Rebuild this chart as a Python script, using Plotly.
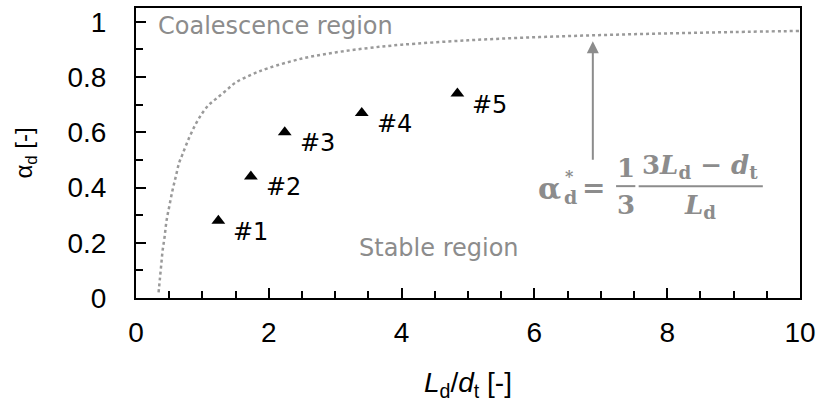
import plotly.graph_objects as go

# Experimental cases
case_labels = ["#1", "#2", "#3", "#4", "#5"]
case_x = [1.24, 1.73, 2.24, 3.40, 4.84]
case_y = [0.28, 0.44, 0.60, 0.67, 0.74]

# Critical curve
curve_x = [0.34, 0.36, 0.38, 0.40, 0.43, 0.46, 0.50, 0.55, 0.60, 0.65, 0.70, 0.80, 0.90, 1.00,
           1.10, 1.20, 1.35, 1.50, 1.75, 2.00, 2.50, 3.00, 3.50, 4.00, 5.00, 6.00, 7.00, 8.00, 9.00, 10.00]
curve_y = [0.02, 0.07, 0.12, 0.17, 0.22, 0.28, 0.33, 0.39, 0.44, 0.49, 0.52, 0.58, 0.63, 0.67,
           0.70, 0.72, 0.75, 0.78, 0.81, 0.833, 0.867, 0.889, 0.905, 0.917, 0.933, 0.944, 0.952, 0.958, 0.963, 0.967]

x_ticks = [0, 2, 4, 6, 8, 10]
y_ticks = [0, 0.2, 0.4, 0.6, 0.8, 1]
y_tick_text = ["0", "0.2", "0.4", "0.6", "0.8", "1"]

GRAY = "#8c8c8c"

fig = go.Figure()
fig.add_trace(go.Scatter(x=curve_x, y=curve_y, mode="lines",
                         line=dict(color="#9a9a9a", width=2.5, dash="dot", shape="spline"),
                         hoverinfo="skip", showlegend=False))
fig.add_trace(go.Scatter(x=case_x, y=case_y, mode="markers",
                         marker=dict(symbol="triangle-up", size=12, color="black"), showlegend=False))

annotations = []
for lab, x, y in zip(case_labels, case_x, case_y):
    annotations.append(dict(x=x, y=y, text=lab, showarrow=False, xanchor="left", yanchor="middle",
                            xshift=13, yshift=-11, font=dict(family="DejaVu Sans", size=24, color="black")))


def eq(x, y, text, size=26):
    return dict(x=x, y=y, text=text, showarrow=False, xanchor="center", yanchor="middle",
                font=dict(family="DejaVu Serif", size=size, color=GRAY))


annotations += [
    dict(x=0.03, y=0.993, xref="paper", yref="paper", text="Coalescence region", showarrow=False,
         xanchor="left", yanchor="top",
         font=dict(family="DejaVu Sans", size=24, color=GRAY)),
    dict(x=4.57, y=0.18, text="Stable region", showarrow=False, xanchor="center", yanchor="middle",
         font=dict(family="DejaVu Sans", size=24, color=GRAY)),
    dict(x=6.88, y=0.93, ax=6.88, ay=0.495, xref="x", yref="y", axref="x", ayref="y", text="",
         showarrow=True, arrowhead=2, arrowsize=1.2, arrowwidth=2, arrowcolor=GRAY),
    # equation pieces
    eq(6.22, 0.395, "<b>α</b>", 30),
    eq(6.53, 0.44, "<b>*</b>", 16),
    eq(6.54, 0.365, "<b>d</b>", 19),
    eq(6.89, 0.399, "<b>=</b>", 28),
    eq(7.38, 0.47, "<b>1</b>"),
    eq(7.38, 0.335, "<b>3</b>"),
    eq(8.50, 0.475, "<b>3<i>L</i><sub>d</sub> − <i>d</i><sub>t</sub></b>"),
    eq(8.50, 0.33, "<b><i>L</i><sub>d</sub></b>"),
]

shapes = [
    dict(type="line", x0=7.23, x1=7.52, y0=0.405, y1=0.405, xref="x", yref="y", line=dict(color=GRAY, width=2)),
    dict(type="line", x0=7.57, x1=9.44, y0=0.405, y1=0.405, xref="x", yref="y", line=dict(color=GRAY, width=2)),
]

fig.update_layout(
    width=822, height=408,
    margin=dict(l=136, r=17, t=6, b=110),
    paper_bgcolor="white", plot_bgcolor="white",
    annotations=annotations, shapes=shapes,
    font=dict(family="Liberation Sans", size=28, color="black"),
)
fig.update_xaxes(range=[0, 10], tickvals=x_ticks, ticks="inside", ticklen=10, tickwidth=2, tickcolor="black",
                 tickfont=dict(size=28),
                 minor=dict(dtick=0.5, ticks="inside", ticklen=7, tickwidth=2, tickcolor="black", showgrid=False),
                 showline=True, linecolor="black", linewidth=2, mirror=True, showgrid=False, zeroline=False,
                 ticklabelstandoff=8,
                 title=dict(text="<i>L</i><sub>d</sub>/<i>d</i><sub>t</sub> [-]", font=dict(size=28), standoff=26))
fig.update_yaxes(range=[0, 1.05], tickvals=y_ticks, ticktext=y_tick_text, ticks="inside", ticklen=10, tickwidth=2,
                 tickcolor="black", tickfont=dict(size=28),
                 minor=dict(dtick=0.1, ticks="inside", ticklen=7, tickwidth=2, tickcolor="black", showgrid=False),
                 showline=True, linecolor="black", linewidth=2, mirror=True, showgrid=False, zeroline=False,
                 ticklabelstandoff=22,
                 title=dict(text="α<sub>d</sub> [-]", font=dict(size=24), standoff=28))

fig.write_html("out.html", config={"displayModeBar": False},
               post_script="document.body.style.margin='0';document.body.style.overflow='hidden';")
